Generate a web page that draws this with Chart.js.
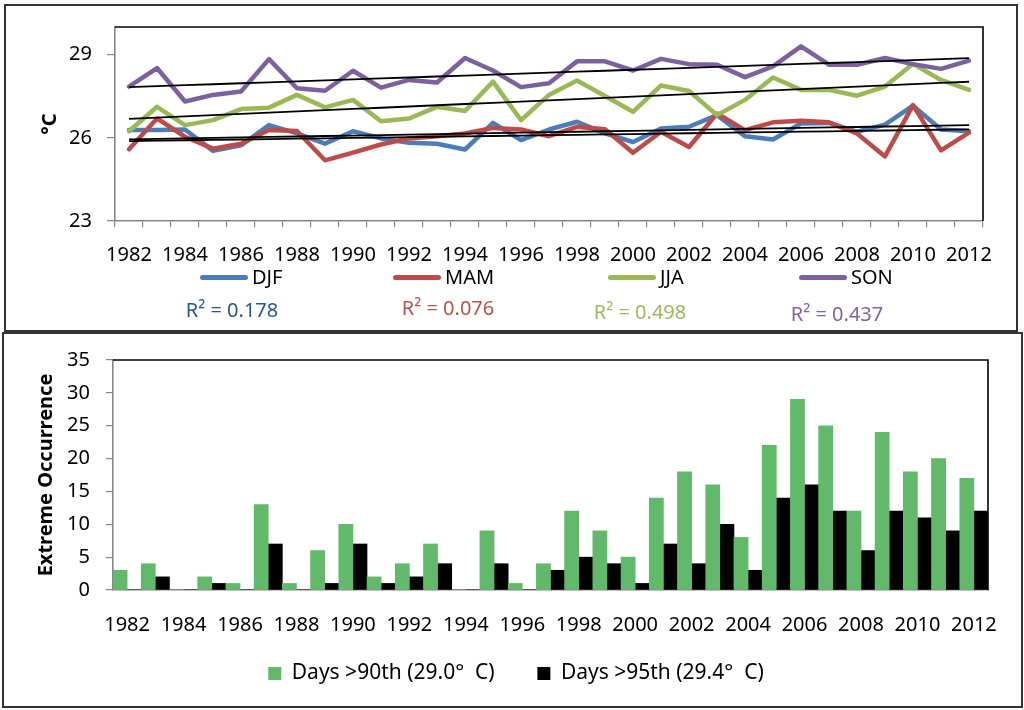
<!DOCTYPE html>
<html lang="en">
<head>
  <meta charset="UTF-8" />
  <title>Seasonal temperature and extreme occurrence 1982-2012</title>
  <script src="https://cdn.jsdelivr.net/npm/chart.js"></script>
  <style>
    * { margin: 0; padding: 0; box-sizing: border-box; }
    body {
      width: 1024px;
      height: 710px;
      background: #fff;
      font-family: 'Noto Sans', sans-serif;
      position: relative;
      overflow: hidden;
    }
    .panel {
      position: absolute;
      border: 2px solid #333;
    }
    #topPanel { left: 4px; top: 4px; width: 1014px; height: 328px; }
    #bottomPanel { left: 2px; top: 332px; width: 1021px; height: 376px; }
    .chart-box { position: absolute; left: 0; width: 1024px; }
    #tempBox { top: 0; height: 280px; }
    #extremeBox { top: 332px; height: 378px; }
    .legend-item {
      position: absolute;
      top: 265px;
      height: 24px;
      line-height: 24px;
      font-size: 20px;
      color: #000;
      white-space: nowrap;
    }
    .legend-item .swatch {
      display: inline-block;
      width: 48px;
      height: 5px;
      border-radius: 3px;
      vertical-align: middle;
      margin-right: 4px;
      margin-top: -3px;
    }
    .r2 {
      position: absolute;
      font-size: 20px;
      line-height: 24px;
      transform: translate(-50%, -50%);
      white-space: nowrap;
    }
  </style>
</head>
<body>
  <div class="panel" id="topPanel"></div>
  <div class="panel" id="bottomPanel"></div>

  <div class="chart-box" id="tempBox"><canvas id="tempChart" width="1024" height="280"></canvas></div>
  <div id="tempLegend"></div>
  <div class="chart-box" id="extremeBox"><canvas id="extremeChart" width="1024" height="378"></canvas></div>

  <script>
    // ---- data ----
    const years = [1982, 1983, 1984, 1985, 1986, 1987, 1988, 1989, 1990, 1991, 1992,
                   1993, 1994, 1995, 1996, 1997, 1998, 1999, 2000, 2001, 2002, 2003,
                   2004, 2005, 2006, 2007, 2008, 2009, 2010, 2011, 2012];

    const djf = [26.28, 26.28, 26.30, 25.53, 25.73, 26.46, 26.16, 25.79, 26.24, 25.98, 25.82,
                 25.79, 25.58, 26.54, 25.92, 26.30, 26.58, 26.16, 25.85, 26.34, 26.40, 26.82,
                 26.06, 25.94, 26.52, 26.54, 26.22, 26.48, 27.16, 26.30, 26.24];
    const mam = [25.59, 26.70, 26.04, 25.61, 25.79, 26.28, 26.25, 25.19, 25.47, 25.76, 25.98,
                 26.06, 26.16, 26.36, 26.30, 26.06, 26.40, 26.31, 25.46, 26.22, 25.67, 26.88,
                 26.28, 26.56, 26.62, 26.56, 26.16, 25.33, 27.18, 25.55, 26.19];
    const jja = [26.24, 27.12, 26.46, 26.64, 27.04, 27.09, 27.55, 27.10, 27.37, 26.60, 26.70,
                 27.12, 26.97, 28.03, 26.64, 27.55, 28.07, 27.51, 26.94, 27.89, 27.69, 26.82,
                 27.37, 28.18, 27.73, 27.73, 27.52, 27.85, 28.67, 28.09, 27.73];
    const son = [27.85, 28.52, 27.31, 27.55, 27.67, 28.84, 27.79, 27.70, 28.42, 27.81, 28.09,
                 28.00, 28.88, 28.43, 27.83, 27.97, 28.76, 28.76, 28.43, 28.85, 28.66, 28.64,
                 28.19, 28.58, 29.30, 28.64, 28.64, 28.88, 28.66, 28.49, 28.79];

    const seasons = ['DJF', 'MAM', 'JJA', 'SON'];
    const r2Text = ['R² = 0.178', 'R² = 0.076', 'R² = 0.498', 'R² = 0.437'];
    const tempTicks = [23, 26, 29];

    const days90 = [3, 4, 0, 2, 1, 13, 1, 6, 10, 2, 4, 7, 0, 9, 1, 4,
                    12, 9, 5, 14, 18, 16, 8, 22, 29, 25, 12, 24, 18, 20, 17];
    const days95 = [0, 2, 0, 1, 0, 7, 0, 1, 7, 1, 2, 4, 0, 4, 0, 3,
                    5, 4, 1, 7, 4, 10, 3, 14, 16, 12, 6, 12, 11, 9, 12];
    const barNames = ['Days >90th (29.0°  C)', 'Days >95th (29.4°  C)'];

    // ---- styling ----
    const seasonColors = ['#4a7ebb', '#be4b48', '#98b954', '#7d60a0'];
    const r2Colors = ['#2a5592', '#c0504d', '#9bbb59', '#8064a2'];
    const legendX = [200, 393, 608, 799];
    const r2Pos = [[232, 310], [448, 308], [640, 312], [837, 314]];
    const axisGray = '#878787';

    Chart.defaults.font.family = "'Noto Sans', sans-serif";
    Chart.defaults.color = '#000';

    // least squares fit of a series against its index
    function trendOf(vals) {
      const n = vals.length;
      const mx = (n - 1) / 2;
      const my = vals.reduce((a, b) => a + b, 0) / n;
      let sxy = 0, sxx = 0;
      vals.forEach((v, i) => { sxy += (i - mx) * (v - my); sxx += (i - mx) * (i - mx); });
      const slope = sxy / sxx;
      return vals.map((_, i) => my + slope * (i - mx));
    }

    // black top/right edge of the plot area
    const plotFrame = {
      id: 'plotFrame',
      afterDraw(chart) {
        const { ctx, chartArea: a } = chart;
        ctx.save();
        ctx.strokeStyle = '#000';
        ctx.lineWidth = 1.6;
        ctx.beginPath();
        ctx.moveTo(a.left, a.top);
        ctx.lineTo(a.right, a.top);
        ctx.lineTo(a.right, a.bottom);
        ctx.stroke();
        ctx.restore();
      }
    };

    const everyOther = function (v, i) { return i % 2 === 0 ? this.getLabelForValue(v) : ''; };

    // ---- top chart ----
    const seriesVals = [djf, mam, jja, son];
    const tempSets = [];
    seriesVals.forEach((vals, k) => {
      tempSets.push({
        label: seasons[k],
        data: vals,
        borderColor: seasonColors[k],
        backgroundColor: seasonColors[k],
        borderWidth: 4.5,
        pointRadius: 0,
        tension: 0,
        borderJoinStyle: 'round',
        borderCapStyle: 'round',
        order: 4 - k
      });
    });
    seriesVals.forEach((vals, k) => {
      tempSets.push({
        label: seasons[k] + ' trend',
        data: trendOf(vals),
        borderColor: '#000',
        borderWidth: 1.8,
        pointRadius: 0,
        order: 0
      });
    });

    new Chart(document.getElementById('tempChart'), {
      type: 'line',
      data: { labels: years, datasets: tempSets },
      options: {
        responsive: false,
        animation: false,
        layout: { padding: { top: 27, right: 41, left: 0, bottom: 0 } },
        plugins: { legend: { display: false }, tooltip: { enabled: false } },
        scales: {
          x: {
            offset: true,
            grid: { offset: true, drawOnChartArea: false, tickLength: 6, color: axisGray, lineWidth: 1.2 },
            border: { color: axisGray, width: 1.6 },
            ticks: { autoSkip: false, maxRotation: 0, padding: 16, font: { size: 20 }, callback: everyOther },
            afterFit(s) { s.height = 59; }
          },
          y: {
            min: 23,
            max: 30,
            grid: { drawOnChartArea: false, tickLength: 8, color: axisGray, lineWidth: 1.2 },
            border: { color: axisGray, width: 1.6 },
            ticks: { padding: 15, font: { size: 20 } },
            afterBuildTicks(s) { s.ticks = tempTicks.map(v => ({ value: v })); },
            title: { display: true, text: '°C', font: { size: 20, weight: 'bold' }, padding: { top: 38 } },
            afterFit(s) { s.width = 115; }
          }
        }
      },
      plugins: [plotFrame]
    });

    // legend and R² labels for the top chart
    const legendBox = document.getElementById('tempLegend');
    seasons.forEach((name, k) => {
      const item = document.createElement('div');
      item.className = 'legend-item';
      item.style.left = legendX[k] + 'px';
      item.innerHTML = '<span class="swatch" style="background:' + seasonColors[k] + '"></span>' + name;
      legendBox.appendChild(item);

      const r2 = document.createElement('div');
      r2.className = 'r2';
      r2.style.left = r2Pos[k][0] + 'px';
      r2.style.top = r2Pos[k][1] + 'px';
      r2.style.color = r2Colors[k];
      r2.textContent = r2Text[k];
      legendBox.appendChild(r2);
    });

    // ---- bottom chart ----
    new Chart(document.getElementById('extremeChart'), {
      type: 'bar',
      data: {
        labels: years,
        datasets: [
          { label: barNames[0], data: days90, backgroundColor: '#61b96a', categoryPercentage: 1, barPercentage: 1 },
          { label: barNames[1], data: days95, backgroundColor: '#000000', categoryPercentage: 1, barPercentage: 1 }
        ]
      },
      options: {
        responsive: false,
        animation: false,
        // left padding keeps the legend centred on the panel like the original
        layout: { padding: { top: 25, right: 36, left: 44, bottom: 16 } },
        plugins: {
          tooltip: { enabled: false },
          legend: {
            position: 'bottom',
            labels: {
              boxWidth: 13,
              boxHeight: 13,
              padding: 10,
              font: { size: 21 },
              // wider gap between the two entries, as in the original
              generateLabels(chart) {
                const items = Chart.defaults.plugins.legend.labels.generateLabels(chart);
                items.forEach((it, i) => { if (i < items.length - 1) it.text += '      '; });
                return items;
              }
            }
          }
        },
        scales: {
          x: {
            grid: { display: false, drawTicks: false },
            border: { color: axisGray, width: 1.6 },
            ticks: { autoSkip: false, maxRotation: 0, padding: 23, font: { size: 20 }, callback: everyOther },
            afterFit(s) { s.height = 63; }
          },
          y: {
            min: 0,
            max: 35,
            grid: { drawOnChartArea: false, tickLength: 7, color: axisGray, lineWidth: 1.2 },
            border: { color: axisGray, width: 1.6 },
            ticks: { stepSize: 5, padding: 16, font: { size: 20 } },
            title: { display: true, text: 'Extreme Occurrence', font: { size: 20, weight: 'bold' }, padding: { top: -10 } },
            afterFit(s) { s.width = 69; }
          }
        }
      },
      plugins: [plotFrame]
    });
  </script>
</body>
</html>
